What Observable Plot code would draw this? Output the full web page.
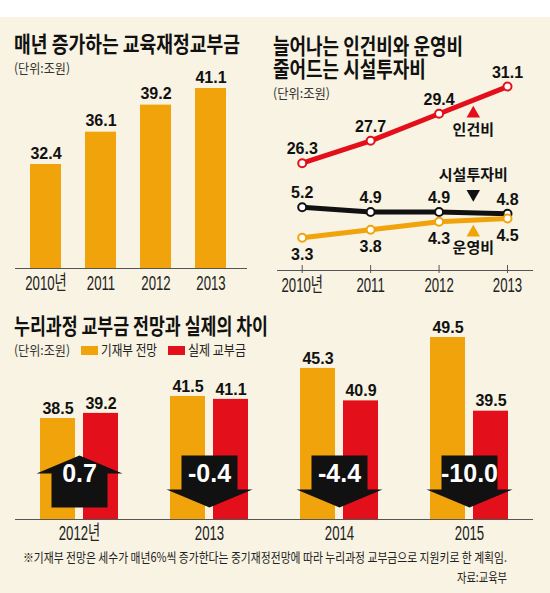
<!DOCTYPE html>
<html>
<head>
<meta charset="utf-8">
<script src="https://cdn.jsdelivr.net/npm/d3@7"></script>
<script src="https://cdn.jsdelivr.net/npm/@observablehq/plot@0.6"></script>
<style>
  body { margin: 0; background: #fff; }
  #page { position: relative; width: 550px; height: 593px; background: #f8f3e2; overflow: hidden; font-family: 'Noto Sans CJK KR', sans-serif; color: #1a1a1a; }
  .abs { position: absolute; white-space: nowrap; transform-origin: left center; }
  .title { font-size: 22px; line-height: 22px; font-weight: 700; color: #111; }
  .title2 { line-height: 23px; }
  .unit { font-size: 13px; line-height: 14px; color: #333; }
  .leg { font-size: 14px; line-height: 15px; color: #222; }
  .note { font-size: 13px; line-height: 14px; color: #222; }
  .sw { position: absolute; width: 17px; height: 9px; }
  .panel { position: absolute; }
</style>
</head>
<body>
<div id="page">
  <div class="abs" style="left:0;top:0;width:550px;height:17px;background:#fff"></div>

  <div class="abs title" style="left:14px;top:31px" data-w="226">매년 증가하는 교육재정교부금</div>
  <div class="abs unit" style="left:14px;top:61px" data-w="56">(단위:조원)</div>

  <div class="abs title title2" style="left:273px;top:33px;transform-origin:left top" data-w="190">늘어나는 인건비와 운영비<br>줄어드는 시설투자비</div>
  <div class="abs unit" style="left:273px;top:86px" data-w="57">(단위:조원)</div>

  <div class="abs title" style="left:14px;top:313px" data-w="254">누리과정 교부금 전망과 실제의 차이</div>
  <div class="abs unit" style="left:14px;top:343px" data-w="56">(단위:조원)</div>
  <div class="sw" id="sw1" style="left:81px;top:346px"></div>
  <div class="abs leg" style="left:101px;top:342px" data-w="56">기재부 전망</div>
  <div class="sw" id="sw2" style="left:168px;top:346px"></div>
  <div class="abs leg" style="left:188px;top:342px" data-w="58">실제 교부금</div>

  <div class="abs note" style="left:23px;top:550px" data-w="484">※기재부 전망은 세수가 매년6%씩 증가한다는 중기재정전망에 따라 누리과정 교부금으로 지원키로 한 계획임.</div>
  <div class="abs note" style="left:457px;top:570px" data-w="50">자료:교육부</div>

  <div class="panel" id="p1" style="left:0;top:60px;width:260px;height:235px"></div>
  <div class="panel" id="p2b" style="left:260px;top:60px;width:290px;height:235px"></div>
  <div class="panel" id="p2a" style="left:260px;top:60px;width:290px;height:150px"></div>
  <div class="panel" id="p3" style="left:0;top:300px;width:550px;height:240px"></div>
</div>
<script>
// ---------- data ----------
const years1 = [2010, 2011, 2012, 2013];
const grant = [32.4, 36.1, 39.2, 41.1];

const years2 = [2010, 2011, 2012, 2013];
const names2 = ["인건비", "시설투자비", "운영비"];
const personnel = [26.3, 27.7, 29.4, 31.1];
const facility = [5.2, 4.9, 4.9, 4.8];
const operating = [3.3, 3.8, 4.3, 4.5];

const years3 = [2012, 2013, 2014, 2015];
const forecast = [38.5, 41.5, 45.3, 49.5];
const actual = [39.2, 41.1, 40.9, 39.5];
const gap = [0.7, -0.4, -4.4, -10.0];

// ---------- styles ----------
const ORANGE = "#f0a30a", RED = "#e3101b", BLACK = "#111111", WHITE = "#ffffff";
const NUM = "'Liberation Sans',Arial,'Noto Sans CJK KR',sans-serif";
const KR = "'Noto Sans CJK KR',sans-serif";
const svgStyle = {background: "transparent", overflow: "visible"};
const yearFmt = first => d => d === first ? `${d}년` : `${d}`;
const valueText = {fontFamily: NUM, fontWeight: "bold", fontSize: 16, fill: BLACK, ariaLabel: "values"};
const axisText = {fontFamily: NUM, fontSize: 20, fill: "#222"};

document.getElementById("sw1").style.background = ORANGE;
document.getElementById("sw2").style.background = RED;

// ---------- panel 1 ----------
const rows1 = years1.map((year, i) => ({year, value: grant[i]}));
const y1min = 20.5;
const p1 = Plot.plot({
  width: 260, height: 235,
  marginTop: 28, marginBottom: 27, marginLeft: 15, marginRight: 13,
  style: svgStyle,
  x: {type: "band", domain: years1, range: [29, 227], paddingInner: 0.43, paddingOuter: 0, label: null},
  y: {domain: [y1min, 41.1], axis: null},
  marks: [
    Plot.barY(rows1, {x: "year", y: "value", fill: ORANGE, clip: true}),
    Plot.ruleY([y1min], {stroke: "#555", strokeWidth: 1}),
    Plot.text(rows1, {x: "year", y: "value", text: d => d.value.toFixed(1), dy: -11, ...valueText}),
    Plot.axisX({tickSize: 0, tickPadding: 7, tickFormat: yearFmt(years1[0]), label: null, ...axisText})
  ]
});
document.getElementById("p1").append(p1);

// ---------- panel 2 (broken axis: two stacked plots sharing the x scale) ----------
const rows2 = years2.flatMap((year, i) => [
  {year, name: names2[0], value: personnel[i]},
  {year, name: names2[1], value: facility[i]},
  {year, name: names2[2], value: operating[i]}
]);
const midYear = (years2[2] + years2[3]) / 2;
const annot = [personnel, facility, operating].map((vals, k) => ({
  name: names2[k], x: midYear, y: (vals[2] + vals[3]) / 2
}));
const x2 = {type: "linear", domain: [years2[0], years2[3]], range: [41.7, 247], label: null};
const color2 = {domain: names2, range: [RED, BLACK, ORANGE]};
const annText = {fontFamily: KR, fontWeight: "bold", fontSize: 15, fill: BLACK, ariaLabel: "annotation"};

// upper part: 인건비
const upper = rows2.filter(d => d.name === names2[0]);
const p2a = Plot.plot({
  width: 290, height: 150,
  marginTop: 10, marginBottom: 10, marginLeft: 17, marginRight: 17,
  style: svgStyle,
  x: {...x2, axis: null},
  y: {domain: [24, 32], range: [139.4, 11.7], axis: null},
  color: color2,
  marks: [
    Plot.line(upper, {x: "year", y: "value", stroke: "name", strokeWidth: 5}),
    Plot.dot(upper, {x: "year", y: "value", stroke: "name", fill: WHITE, r: 4, strokeWidth: 2}),
    Plot.text(upper, {x: "year", y: "value", text: d => d.value.toFixed(1), dy: -14, ...valueText}),
    Plot.dot(annot.filter(d => d.name === names2[0]), {x: "x", y: "y", fill: "name", symbol: "triangle", r: 5, dy: 13.5}),
    Plot.text(annot.filter(d => d.name === names2[0]), {x: "x", y: "y", text: "name", dy: 30, ...annText})
  ]
});

// lower part: 시설투자비, 운영비
const lower = rows2.filter(d => d.name !== names2[0]);
const y2min = 1.27;
const p2b = Plot.plot({
  width: 290, height: 235,
  marginTop: 10, marginBottom: 25, marginLeft: 17, marginRight: 17,
  style: svgStyle,
  x: x2,
  y: {domain: [y2min, 5.5], range: [210, 141.9], axis: null},
  color: color2,
  marks: [
    Plot.ruleY([y2min], {stroke: "#555", strokeWidth: 1}),
    Plot.axisX({ticks: years2, tickSize: 8, dy: -5, tickFormat: () => "", stroke: "#555", label: null}),
    Plot.axisX({ticks: years2, tickSize: 0, tickPadding: 7, tickFormat: yearFmt(years2[0]), label: null, ...axisText}),
    Plot.line(lower, {x: "year", y: "value", z: "name", stroke: "name", strokeWidth: 5}),
    Plot.dot(lower, {x: "year", y: "value", stroke: "name", fill: WHITE, r: 4, strokeWidth: 2}),
    Plot.text(lower.filter(d => d.name === names2[1]), {x: "year", y: "value", text: d => d.value.toFixed(1), dy: -14, ...valueText}),
    Plot.text(lower.filter(d => d.name === names2[2]), {x: "year", y: "value", text: d => d.value.toFixed(1), dy: 17, ...valueText}),
    Plot.dot(annot.filter(d => d.name === names2[1]), {x: "x", y: "y", fill: "name", symbol: "triangle", rotate: 180, r: 5, dy: -19}),
    Plot.text(annot.filter(d => d.name === names2[1]), {x: "x", y: "y", text: "name", dy: -38, ...annText}),
    Plot.dot(annot.filter(d => d.name === names2[2]), {x: "x", y: "y", fill: "name", symbol: "triangle", r: 5, dy: 12.5}),
    Plot.text(annot.filter(d => d.name === names2[2]), {x: "x", y: "y", text: "name", dy: 28, ...annText})
  ]
});
document.getElementById("p2b").append(p2b);
document.getElementById("p2a").append(p2a);

// ---------- panel 3 ----------
const rows3 = years3.map((year, i) => ({year, forecast: forecast[i], actual: actual[i], gap: gap[i]}));
const upArrow = {draw(c) {
  c.moveTo(0, -26); c.lineTo(43, -8); c.lineTo(28, -8); c.lineTo(28, 26);
  c.lineTo(-28, 26); c.lineTo(-28, -8); c.lineTo(-43, -8); c.closePath();
}};
const downArrow = {draw(c) {
  c.moveTo(0, 26); c.lineTo(43, 8); c.lineTo(28, 8); c.lineTo(28, -26);
  c.lineTo(-28, -26); c.lineTo(-28, 8); c.lineTo(-43, 8); c.closePath();
}};
const y3min = 24.8;
const p3 = Plot.plot({
  width: 550, height: 240,
  marginTop: 37, marginBottom: 21, marginLeft: 15, marginRight: 17,
  style: svgStyle,
  x: {type: "band", domain: years3, paddingInner: 0.401, paddingOuter: 0.188, label: null},
  y: {domain: [y3min, 49.5], axis: null},
  marks: [
    Plot.barY(rows3, {x: "year", y: "forecast", fill: ORANGE, insetRight: 43, clip: true}),
    Plot.barY(rows3, {x: "year", y: "actual", fill: RED, insetLeft: 43, clip: true}),
    Plot.ruleY([y3min], {stroke: "#555", strokeWidth: 1}),
    Plot.text(rows3, {x: "year", y: "forecast", text: d => d.forecast.toFixed(1), dx: -21.5, dy: -10, ...valueText}),
    Plot.text(rows3, {x: "year", y: "actual", text: d => d.actual.toFixed(1), dx: 21.5, dy: -10, ...valueText}),
    Plot.dot(rows3.filter(d => d.gap >= 0), {x: "year", frameAnchor: "bottom", dy: -38,
      symbol: upArrow, fill: BLACK, stroke: "none"}),
    Plot.dot(rows3.filter(d => d.gap < 0), {x: "year", frameAnchor: "bottom", dy: -38,
      symbol: downArrow, fill: BLACK, stroke: "none"}),
    Plot.text(rows3, {x: "year", frameAnchor: "bottom", dy: -38, text: d => d.gap.toFixed(1),
      fontFamily: NUM, fontWeight: "bold", fontSize: 25, fill: WHITE, ariaLabel: "gap"}),
    Plot.axisX({tickSize: 0, tickPadding: 6, tickFormat: yearFmt(years3[0]), label: null, ...axisText})
  ]
});
document.getElementById("p3").append(p3);

// ---------- condensed lettering (horizontal squeeze of real text) ----------
function condense(svg, selector, k) {
  svg.querySelectorAll(selector).forEach(t => {
    let tr = t.getAttribute("transform") || "";
    if (t.hasAttribute("x")) {
      tr += ` translate(${t.getAttribute("x")},0)`;
      t.removeAttribute("x");
    }
    t.setAttribute("transform", `${tr} scale(${k},1)`.trim());
  });
}
for (const svg of [p1, p2a, p2b, p3]) {
  condense(svg, 'g[aria-label="x-axis tick label"] text', 0.66);
  condense(svg, 'g[aria-label="values"] text', 0.88);
  condense(svg, 'g[aria-label="annotation"] text', 0.85);
  condense(svg, 'g[aria-label="gap"] text', 0.76);
}

// ---------- fit condensed HTML text ----------
function fit() {
  document.querySelectorAll("[data-w]").forEach(el => {
    el.style.transform = "none";
    const w = el.getBoundingClientRect().width;
    if (w > 0) el.style.transform = `scaleX(${(+el.dataset.w) / w})`;
  });
}
fit();
if (document.fonts && document.fonts.ready) document.fonts.ready.then(fit);
</script>
</body>
</html>
